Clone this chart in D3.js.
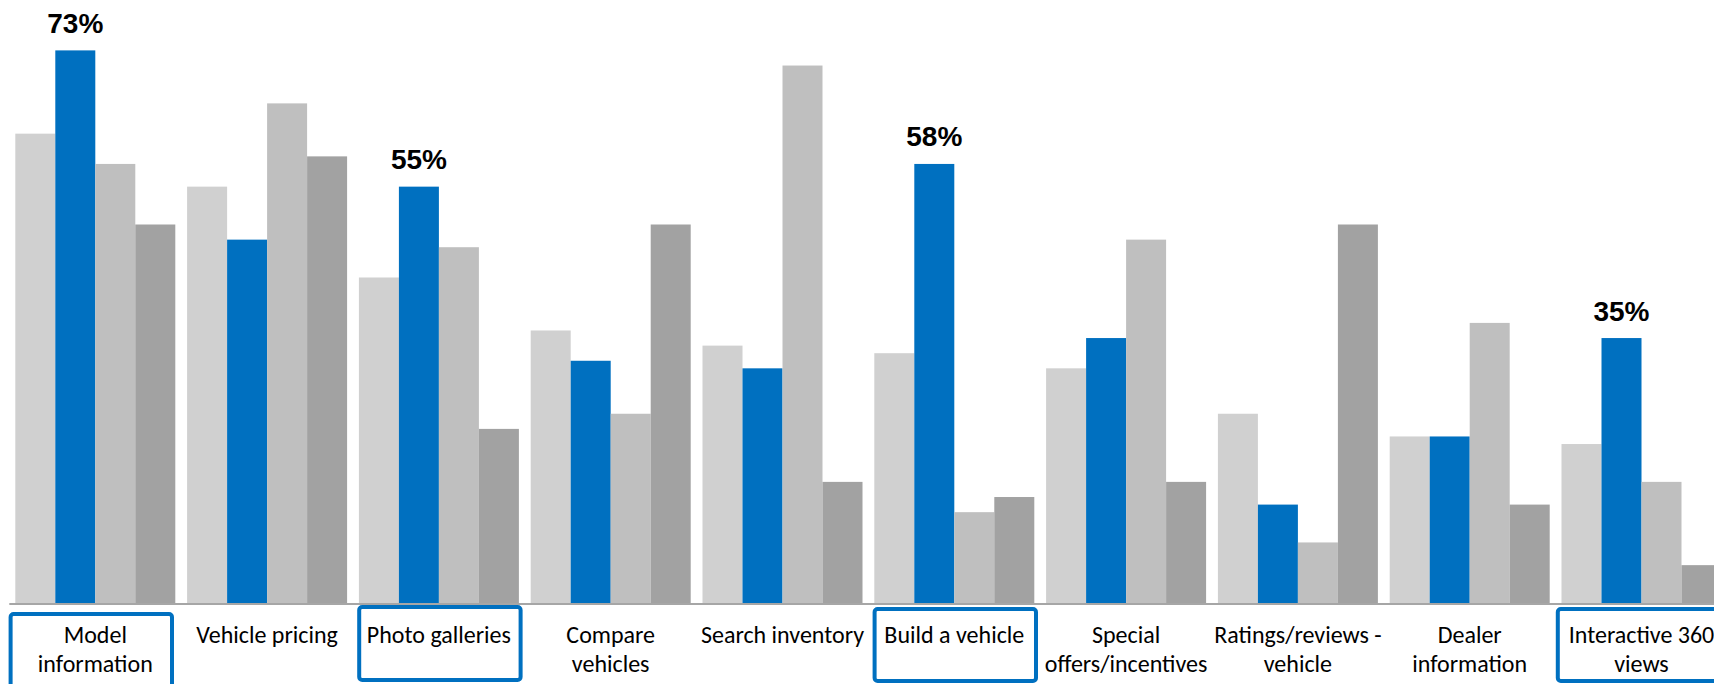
<!DOCTYPE html>
<html>
<head>
<meta charset="utf-8">
<script src="https://cdn.jsdelivr.net/npm/d3@7"></script>
<style>
  html, body { margin: 0; padding: 0; background: #ffffff; }
  svg { display: block; }
</style>
</head>
<body>
<svg id="chart" width="1714" height="684"></svg>
<script>
// Website features used, share of respondents (%) for four groups per feature
const categories = [
  "Model information", "Vehicle pricing", "Photo galleries", "Compare vehicles",
  "Search inventory", "Build a vehicle", "Special offers/incentives",
  "Ratings/reviews - vehicle", "Dealer information", "Interactive 360 views"
];
const categoryLines = [
  ["Model", "information"], ["Vehicle pricing"], ["Photo galleries"], ["Compare", "vehicles"],
  ["Search inventory"], ["Build a vehicle"], ["Special", "offers/incentives"],
  ["Ratings/reviews -", "vehicle"], ["Dealer", "information"], ["Interactive 360", "views"]
];
const seriesKeys = ["A", "B", "C", "D"];
const seriesA = [62, 55, 43, 36, 34, 33, 31, 25, 22, 21];
const seriesB = [73, 48, 55, 32, 31, 58, 35, 13, 22, 35];
const seriesC = [58, 66, 47, 25, 71, 12, 48,  8, 37, 16];
const seriesD = [50, 59, 23, 50, 16, 14, 16, 50, 13,  5];
const highlighted = ["Model information", "Photo galleries", "Build a vehicle", "Interactive 360 views"];

// Layout
const W = 1714, H = 684;
const baseline = 603;
const pxPerPct = 7.57;
const colors = { A: "#d0d0d0", B: "#0070c0", C: "#bfbfbf", D: "#a2a2a2" };
const boxLayout = {
  "Model information":     { dx: -4, top: 612, bottom: 692 },
  "Photo galleries":       { dx:  1, top: 605, bottom: 682 },
  "Build a vehicle":       { dx:  1, top: 607, bottom: 683 },
  "Interactive 360 views": { dx: -3, top: 607, bottom: 683 }
};

const seriesValues = { A: seriesA, B: seriesB, C: seriesC, D: seriesD };
const rows = categories.map((c, i) => ({
  category: c,
  lines: categoryLines[i],
  values: seriesKeys.map(k => ({ key: k, value: seriesValues[k][i], category: c }))
}));

const svg = d3.select("#chart");

const x0 = d3.scaleBand()
  .domain(categories)
  .range([9.4, 9.4 + 10 * 171.8])
  .paddingInner(0.0687)
  .paddingOuter(0.0687 / 2);

const x1 = d3.scaleBand()
  .domain(seriesKeys)
  .range([0, x0.bandwidth()])
  .padding(0);

const y = d3.scaleLinear()
  .domain([0, 80])
  .range([baseline, baseline - 80 * pxPerPct]);

// Bars
const groups = svg.append("g").selectAll("g")
  .data(rows)
  .join("g")
  .attr("transform", d => `translate(${x0(d.category)},0)`);

groups.selectAll("rect")
  .data(d => d.values)
  .join("rect")
  .attr("x", d => x1(d.key))
  .attr("y", d => y(d.value))
  .attr("width", x1.bandwidth())
  .attr("height", d => y(0) - y(d.value))
  .attr("fill", d => colors[d.key]);

// Baseline axis
svg.append("line")
  .attr("x1", 9.3).attr("x2", W)
  .attr("y1", baseline + 1).attr("y2", baseline + 1)
  .attr("stroke", "#a6a6a6")
  .attr("stroke-width", 2);

// Value labels on highlighted bars
const labelled = rows.filter(r => highlighted.includes(r.category))
  .map(r => r.values.find(v => v.key === "B"));

svg.append("g").selectAll("text")
  .data(labelled)
  .join("text")
  .attr("x", d => x0(d.category) + x1("B") + x1.bandwidth() / 2)
  .attr("y", d => y(d.value) - 17.5)
  .attr("text-anchor", "middle")
  .attr("font-family", "'Liberation Sans', Arial, sans-serif")
  .attr("font-weight", "bold")
  .attr("font-size", 28)
  .attr("fill", "#000")
  .text(d => d.value + "%");

// Category labels
const catLabels = svg.append("g").selectAll("text")
  .data(rows)
  .join("text")
  .attr("text-anchor", "middle")
  .attr("font-family", "Carlito, Calibri, Lato, sans-serif")
  .attr("font-size", 24)
  .attr("fill", "#000");

catLabels.selectAll("tspan")
  .data(d => d.lines.map((l, i) => ({ l, i, cx: x0(d.category) + x0.bandwidth() / 2 })))
  .join("tspan")
  .attr("x", d => d.cx)
  .attr("y", d => 643 + d.i * 28.7)
  .text(d => d.l);

// Highlight boxes around selected categories
svg.append("g").selectAll("rect")
  .data(highlighted)
  .join("rect")
  .attr("x", c => x0(c) + x0.bandwidth() / 2 - 82.7 + boxLayout[c].dx + 2)
  .attr("y", c => boxLayout[c].top + 2)
  .attr("width", 161.4)
  .attr("height", c => boxLayout[c].bottom - boxLayout[c].top - 4)
  .attr("rx", 3)
  .attr("fill", "none")
  .attr("stroke", "#0070c0")
  .attr("stroke-width", 4);
</script>
</body>
</html>
